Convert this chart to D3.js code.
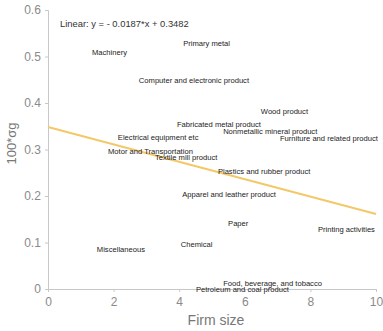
<!DOCTYPE html>
<html>
<head>
<meta charset="utf-8">
<script src="https://cdn.jsdelivr.net/npm/d3@7"></script>
<style>
  body { margin: 0; background: #fff; }
  svg { font-family: Arial, "Liberation Sans", sans-serif; }
</style>
</head>
<body>
<div id="chart"></div>
<script>
// industries and where their labels sit
const industries = [
    'Primary metal', 'Machinery', 'Computer and electronic product', 'Wood product',
    'Fabricated metal product', 'Nonmetallic mineral product', 'Furniture and related product',
    'Electrical equipment etc', 'Motor and Transportation', 'Textile mill product',
    'Plastics and rubber product', 'Apparel and leather product', 'Paper',
    'Printing activities', 'Chemical', 'Miscellaneous', 'Food, beverage, and tobacco',
    'Petroleum and coal product'
];
const firmSize = [4.12, 1.34, 2.77, 6.49, 3.93, 5.34, 7.07, 2.13, 1.83, 3.26, 5.18, 4.09, 5.49, 8.23, 4.05, 1.49, 5.34, 4.51];
const volatility = [0.529, 0.510, 0.449, 0.381, 0.355, 0.338, 0.323, 0.327, 0.295, 0.284, 0.252, 0.204, 0.142, 0.129, 0.097, 0.086, 0.013, 0.0];

// fit
const slope = -0.0187;
const intercept = 0.3482;
const xTicks = [0, 2, 4, 6, 8, 10];
const yTicks = [0, 0.1, 0.2, 0.3, 0.4, 0.5, 0.6];

const margin = {top: 10, right: 7, bottom: 42, left: 48};
const width = 383 - margin.left - margin.right;
const height = 331 - margin.top - margin.bottom;

var svg = d3.select('#chart').append('svg')
    .attr('width', 383)
    .attr('height', 331)
    .append('g')
    .attr('transform', 'translate(' + margin.left + ',' + margin.top + ')');

let xScale = d3.scaleLinear().domain([0, 10]).range([0, width]);
let yScale = d3.scaleLinear().domain([0, 0.6]).range([height, 0]);

let xAxis = d3.axisBottom(xScale).tickValues(xTicks).tickSize(3).tickFormat(d3.format('d'));
let yAxis = d3.axisLeft(yScale).tickValues(yTicks).tickSize(3).tickFormat(d => d === 0 ? '0' : d3.format('.1f')(d));

let xAxisGroup = svg.append('g')
    .attr('transform', 'translate(0,' + height + ')')
    .call(xAxis);
let yAxisGroup = svg.append('g').call(yAxis);

[xAxisGroup, yAxisGroup].forEach(g => {
    g.select('.domain').attr('stroke', '#c8c8c8');
    g.selectAll('.tick line').attr('stroke', '#c8c8c8');
    g.selectAll('.tick text').attr('fill', '#8a8a8a').attr('font-size', 12);
});
xAxisGroup.selectAll('.tick text').attr('dy', '0.9em');
yAxisGroup.selectAll('.tick text').attr('dx', '-0.1em');

// fitted line
var fit = d3.line()
    .x(d => xScale(d))
    .y(d => yScale(intercept + slope * d));
svg.append('path')
    .datum([0, 10])
    .attr('d', fit)
    .attr('fill', 'none')
    .attr('stroke', '#f3c868')
    .attr('stroke-width', 2);

// labels
svg.selectAll('.label')
    .data(industries)
    .enter()
    .append('text')
    .attr('class', 'label')
    .attr('x', (d, i) => xScale(firmSize[i]))
    .attr('y', (d, i) => yScale(volatility[i]))
    .attr('dy', '0.35em')
    .attr('font-size', 7.6)
    .attr('fill', '#222')
    .text(d => d);

svg.append('text')
    .attr('x', 12)
    .attr('y', 17)
    .attr('font-size', 9.4)
    .attr('fill', '#333')
    .text('Linear:  y = - 0.0187*x + 0.3482');

svg.append('text')
    .attr('x', width / 2 + 4)
    .attr('y', height + 36)
    .attr('text-anchor', 'middle')
    .attr('font-size', 14)
    .attr('fill', '#777')
    .text('Firm size');

svg.append('text')
    .attr('transform', 'translate(-32,' + (height / 2 - 6) + ') rotate(-90)')
    .attr('text-anchor', 'middle')
    .attr('font-size', 13)
    .attr('fill', '#777')
    .text('100*σg');
</script>
</body>
</html>
